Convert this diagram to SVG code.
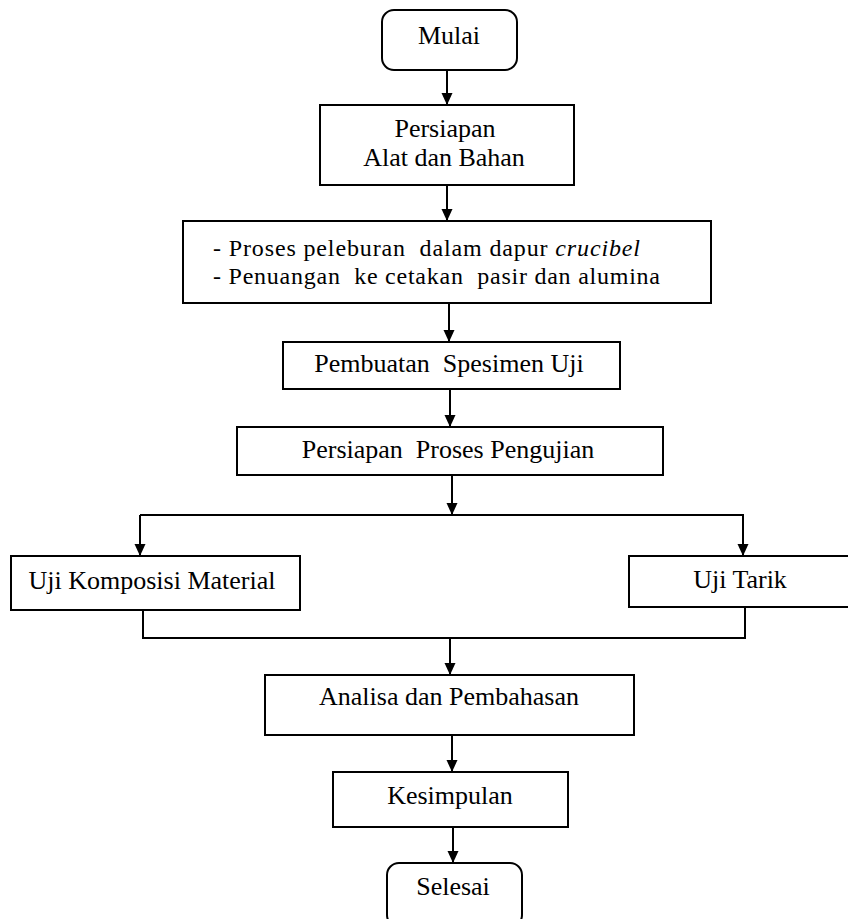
<svg xmlns="http://www.w3.org/2000/svg" width="848" height="919" viewBox="0 0 848 919">
<style>
.box{fill:#fff;stroke:#000;stroke-width:2}
.t{font-family:"Liberation Serif","Times New Roman",serif;font-size:26px;fill:#000;text-anchor:middle}
.tl{font-family:"Liberation Serif","Times New Roman",serif;font-size:24px;fill:#000}
.c{fill:none;stroke:#000;stroke-width:2}
</style>
<defs>
<marker id="ah" markerUnits="userSpaceOnUse" markerWidth="12" markerHeight="12" viewBox="0 0 12 12" refX="12" refY="6" orient="auto">
<path d="M0,0.5 L12,6 L0,11.5 z" fill="#000"/>
</marker>
</defs>
<rect width="848" height="919" fill="#fff"/>
<g id="connectors">
<path class="c" d="M447,70 V105" marker-end="url(#ah)"/>
<path class="c" d="M447,185 V221" marker-end="url(#ah)"/>
<path class="c" d="M449,303 V342" marker-end="url(#ah)"/>
<path class="c" d="M450,389 V427" marker-end="url(#ah)"/>
<path class="c" d="M452,475 V515" marker-end="url(#ah)"/>
<path class="c" d="M140,515 H744"/>
<path class="c" d="M140,515 V556" marker-end="url(#ah)"/>
<path class="c" d="M743,515 V556" marker-end="url(#ah)"/>
<path class="c" d="M143,610 V638 H745 V607"/>
<path class="c" d="M450,638 V675" marker-end="url(#ah)"/>
<path class="c" d="M452,735 V772" marker-end="url(#ah)"/>
<path class="c" d="M453,827 V863" marker-end="url(#ah)"/>
</g>
<g id="mulai"><rect class="box" x="382" y="10" width="135" height="60" rx="12"/><text class="t" x="449" y="44">Mulai</text></g>
<g id="persiapan"><rect class="box" x="320" y="105" width="254" height="80"/><text class="t" x="445" y="137">Persiapan</text><text class="t" x="444" y="166">Alat dan Bahan</text></g>
<g id="peleburan"><rect class="box" x="183" y="221" width="528" height="82"/><text class="tl" x="213" y="256" textLength="427" lengthAdjust="spacing" xml:space="preserve">- Proses peleburan  dalam dapur <tspan font-style="italic">crucibel</tspan></text><text class="tl" x="213" y="284" textLength="447" lengthAdjust="spacing" xml:space="preserve">- Penuangan  ke cetakan  pasir dan alumina</text></g>
<g id="pembuatan"><rect class="box" x="283" y="342" width="337" height="47"/><text class="t" x="449" y="372" xml:space="preserve">Pembuatan  Spesimen Uji</text></g>
<g id="persiapan-pengujian"><rect class="box" x="237" y="427" width="426" height="48"/><text class="t" x="448" y="458" xml:space="preserve">Persiapan  Proses Pengujian</text></g>
<g id="uji-komposisi"><rect class="box" x="11" y="556" width="289" height="54"/><text class="t" x="152" y="589">Uji Komposisi Material</text></g>
<g id="uji-tarik"><rect class="box" x="629" y="556" width="225" height="51"/><text class="t" x="740" y="588">Uji Tarik</text></g>
<g id="analisa"><rect class="box" x="265" y="675" width="369" height="60"/><text class="t" x="449" y="705">Analisa dan Pembahasan</text></g>
<g id="kesimpulan"><rect class="box" x="333" y="772" width="235" height="55"/><text class="t" x="450" y="804">Kesimpulan</text></g>
<g id="selesai"><rect class="box" x="387" y="863" width="135" height="64" rx="12"/><text class="t" x="453" y="895">Selesai</text></g>
</svg>
